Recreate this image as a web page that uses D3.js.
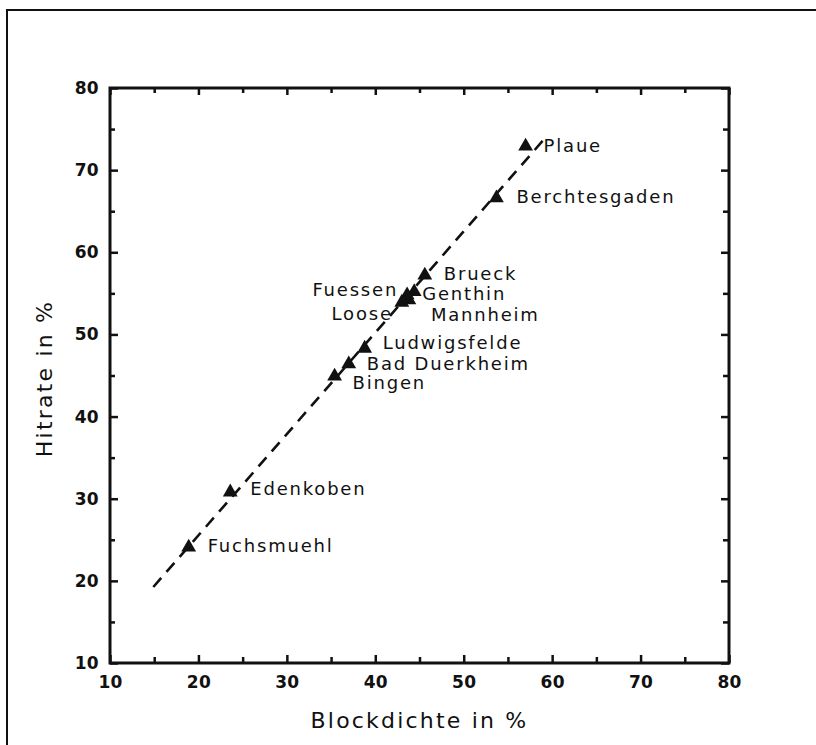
<!DOCTYPE html>
<html>
<head>
<meta charset="utf-8">
<script src="https://cdn.jsdelivr.net/npm/d3@7"></script>
<style>
  html, body { margin: 0; padding: 0; background: #fff; }
  svg { display: block; }
  .tick text { font-family: "DejaVu Sans", sans-serif; }
</style>
</head>
<body>
<svg id="chart" width="816" height="745"></svg>
<script>
// Sites and their measured values
const sites = ["Plaue", "Berchtesgaden", "Brueck", "Genthin", "Mannheim", "Fuessen", "Loose",
               "Ludwigsfelde", "Bad Duerkheim", "Bingen", "Edenkoben", "Fuchsmuehl"];
const blockdichte = [57.0, 53.7, 45.6, 44.4, 43.8, 43.6, 43.0, 38.8, 37.0, 35.4, 23.6, 18.9];
const hitrate     = [72.9, 66.6, 57.2, 55.2, 54.2, 54.8, 53.9, 48.3, 46.4, 44.9, 30.8, 24.1];

// Regression line end points
const fitX = [14.9, 59.2];
const fitY = [19.25, 73.9];

// Axis ticks
const majorTicks = [10, 20, 30, 40, 50, 60, 70, 80];
const minorTicks = [15, 25, 35, 45, 55, 65, 75];

// Label placement (pixel offsets from each marker, text anchor)
const labelPlacement = {
  "Plaue":         { dx: 18, dy: 6,  anchor: "start" },
  "Berchtesgaden": { dx: 20, dy: 5,  anchor: "start" },
  "Brueck":        { dx: 19, dy: 5,  anchor: "start" },
  "Genthin":       { dx: 8,  dy: 8,  anchor: "start" },
  "Mannheim":      { dx: 22, dy: 21, anchor: "start" },
  "Fuessen":       { dx: -9, dy: 1,  anchor: "end" },
  "Loose":         { dx: -9, dy: 18, anchor: "end" },
  "Ludwigsfelde":  { dx: 18, dy: 1,  anchor: "start" },
  "Bad Duerkheim": { dx: 18, dy: 6,  anchor: "start" },
  "Bingen":        { dx: 18, dy: 13, anchor: "start" },
  "Edenkoben":     { dx: 20, dy: 3,  anchor: "start" },
  "Fuchsmuehl":    { dx: 19, dy: 5,  anchor: "start" }
};

const svg = d3.select("#chart");
const ink = "#111";

// outer frame
svg.append("rect")
  .attr("x", 7).attr("y", 10)
  .attr("width", 830).attr("height", 760)
  .attr("fill", "#fff").attr("stroke", ink).attr("stroke-width", 2);

const plotLeft = 110, plotRight = 729, plotTop = 88, plotBottom = 663;
const x = d3.scaleLinear().domain([10, 80]).range([plotLeft, plotRight]);
const y = d3.scaleLinear().domain([10, 80]).range([plotBottom, plotTop]);

function styleAxis(g) {
  g.select(".domain").remove();
  g.selectAll(".tick line").attr("stroke", ink).attr("stroke-width", 2.5);
  g.selectAll(".tick text")
    .attr("fill", ink)
    .style("font-size", "17px")
    .style("font-weight", "bold")
    .style("letter-spacing", "0.3px");
}

// major ticks with labels
svg.append("g").attr("transform", `translate(0,${plotBottom})`)
  .call(d3.axisBottom(x).tickValues(majorTicks).tickSizeInner(-8).tickSizeOuter(0).tickPadding(13).tickFormat(d3.format("d")))
  .call(styleAxis);
svg.append("g").attr("transform", `translate(${plotLeft},0)`)
  .call(d3.axisLeft(y).tickValues(majorTicks).tickSizeInner(-8).tickSizeOuter(0).tickPadding(11).tickFormat(d3.format("d")))
  .call(styleAxis);
svg.append("g").attr("transform", `translate(0,${plotTop})`)
  .call(d3.axisTop(x).tickValues(majorTicks).tickSizeInner(-7).tickSizeOuter(0).tickFormat(""))
  .call(styleAxis);
svg.append("g").attr("transform", `translate(${plotRight},0)`)
  .call(d3.axisRight(y).tickValues(majorTicks).tickSizeInner(-8).tickSizeOuter(0).tickFormat(""))
  .call(styleAxis);

// minor ticks
svg.append("g").attr("transform", `translate(0,${plotBottom})`)
  .call(d3.axisBottom(x).tickValues(minorTicks).tickSizeInner(-6).tickSizeOuter(0).tickFormat(""))
  .call(styleAxis);
svg.append("g").attr("transform", `translate(${plotLeft},0)`)
  .call(d3.axisLeft(y).tickValues(minorTicks).tickSizeInner(-5).tickSizeOuter(0).tickFormat(""))
  .call(styleAxis);
svg.append("g").attr("transform", `translate(0,${plotTop})`)
  .call(d3.axisTop(x).tickValues(minorTicks).tickSizeInner(-5).tickSizeOuter(0).tickFormat(""))
  .call(styleAxis);
svg.append("g").attr("transform", `translate(${plotRight},0)`)
  .call(d3.axisRight(y).tickValues(minorTicks).tickSizeInner(-6).tickSizeOuter(0).tickFormat(""))
  .call(styleAxis);

// plot box
svg.append("rect")
  .attr("x", plotLeft).attr("y", plotTop)
  .attr("width", plotRight - plotLeft).attr("height", plotBottom - plotTop)
  .attr("fill", "none").attr("stroke", ink).attr("stroke-width", 3);

// dashed regression line
svg.append("path")
  .datum(fitX.map((v, i) => [v, fitY[i]]))
  .attr("d", d3.line().x(d => x(d[0])).y(d => y(d[1])))
  .attr("fill", "none").attr("stroke", ink)
  .attr("stroke-width", 2.6).attr("stroke-dasharray", "12,8");

// markers
const tri = d3.symbol().type(d3.symbolTriangle).size(95);
svg.append("g").selectAll("path")
  .data(sites)
  .join("path")
  .attr("d", tri)
  .attr("transform", (d, i) => `translate(${x(blockdichte[i])},${y(hitrate[i])})`)
  .attr("fill", ink);

// site labels
svg.append("g").selectAll("text")
  .data(sites)
  .join("text")
  .attr("x", (d, i) => x(blockdichte[i]) + labelPlacement[d].dx)
  .attr("y", (d, i) => y(hitrate[i]) + labelPlacement[d].dy)
  .attr("text-anchor", d => labelPlacement[d].anchor)
  .style("font-family", "'DejaVu Sans', sans-serif")
  .style("font-size", "18px")
  .style("letter-spacing", "1.8px")
  .attr("fill", ink)
  .text(d => d);

// axis titles
svg.append("text")
  .attr("x", (plotLeft + plotRight) / 2).attr("y", 728)
  .attr("text-anchor", "middle")
  .style("font-family", "'DejaVu Sans', sans-serif")
  .style("font-size", "22px")
  .style("letter-spacing", "2.2px")
  .attr("fill", ink)
  .text("Blockdichte in %");

svg.append("text")
  .attr("transform", `translate(52,${(plotTop + plotBottom) / 2 + 3}) rotate(-90)`)
  .attr("text-anchor", "middle")
  .style("font-family", "'DejaVu Sans', sans-serif")
  .style("font-size", "22px")
  .style("letter-spacing", "2.2px")
  .attr("fill", ink)
  .text("Hitrate in %");
</script>
</body>
</html>
